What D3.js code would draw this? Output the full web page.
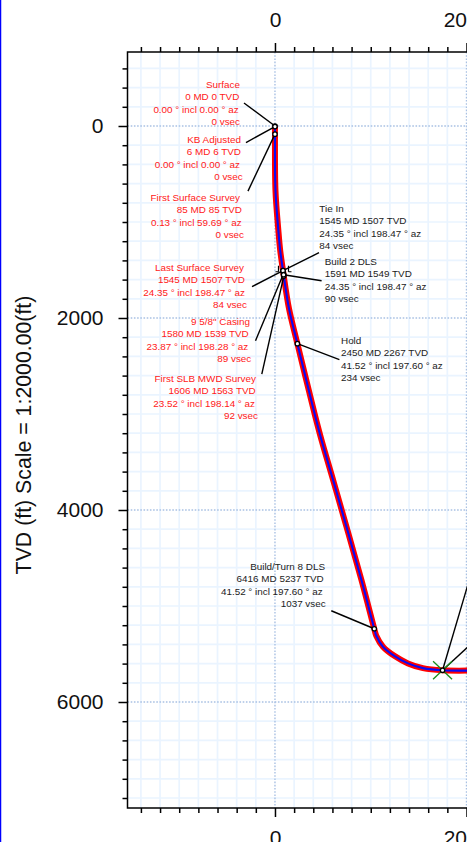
<!DOCTYPE html>
<html>
<head>
    <meta charset="utf-8">
    <title>Wellbore vertical section</title>
    <script src="https://d3js.org/d3.v7.min.js"></script>
    <style>
        html, body { margin: 0; padding: 0; background: #fff; }
        svg { display: block; font-family: "Liberation Sans", Arial, sans-serif; }
    </style>
</head>
<body>
<div id="container"></div>

<script type="text/javascript">
    // planned well path
    const pathVsec = [0, 0, 5, 35, 55, 84, 90, 146, 234, 417, 486, 616, 903, 1037, 1059, 1128, 1250, 1389, 1545, 1750, 2200];
    const pathTvd = [0, 85, 667, 1083, 1300, 1507, 1549, 1900, 2267, 3010, 3271, 3719, 4729, 5237, 5313, 5424, 5522, 5598, 5647, 5670, 5670];

    // survey stations
    const stationNames = ["Surface", "KB Adjusted", "First Surface Survey", "Last Surface Survey", "9 5/8\" Casing", "First SLB MWD Survey", "Tie In", "Build 2 DLS", "Hold", "Build/Turn 8 DLS"];
    const stationMd = [0, 6, 85, 1545, 1580, 1606, 1545, 1591, 2450, 6416];
    const stationTvd = [0, 6, 85, 1507, 1539, 1563, 1507, 1549, 2267, 5237];
    const stationIncl = ["0.00", "0.00", "0.13", "24.35", "23.87", "23.52", "24.35", "24.35", "41.52", "41.52"];
    const stationAz = ["0.00", "0.00", "59.69", "198.47", "198.28", "198.14", "198.47", "198.47", "197.60", "197.60"];
    const stationVsec = [0, 0, 0, 84, 89, 92, 84, 90, 234, 1037];

    // last point of the path, its labels are off the page
    const targetVsec = 1750;
    const targetTvd = 5670;

    // axis ticks
    const xMajor = [0, 2000];
    const yMajor = [0, 2000, 4000, 6000];
    const xMinor = [-1400, -1200, -1000, -800, -600, -400, -200, 200, 400, 600, 800, 1000, 1200, 1400, 1600, 1800];
    const yMinor = [-600, -400, -200, 200, 400, 600, 800, 1000, 1200, 1400, 1600, 1800, 2200, 2400, 2600, 2800, 3000, 3200, 3400, 3600, 3800, 4200, 4400, 4600, 4800, 5000, 5200, 5400, 5600, 5800, 6200, 6400, 6600, 6800, 7000];

    // label placement: text x per line, first baseline, leader end relative to the station
    const labelX = [
        [240, 239.3, 238.7, 240], [241, 241, 240, 242.7], [240, 242, 241.7, 244],
        [244, 245, 245, 247], [250, 248.7, 248.3, 251.3], [256, 255.7, 255, 258],
        [319.3, 319.3, 319.3, 319.3], [324.7, 324.7, 324.7, 324.7], [341, 341, 341, 341], [325, 323.7, 322.7, 325.7]
    ];
    const labelY = [88, 143, 201, 271, 325, 382, 212, 265, 344, 570];
    const labelAnchor = ["end", "end", "end", "end", "end", "end", "start", "start", "start", "end"];
    const labelColor = ["#ff2020", "#ff2020", "#ff2020", "#ff2020", "#ff2020", "#ff2020", "#222", "#222", "#222", "#222"];
    const leaderDx = [-31, -29, -27, -31, -28, -22, 36, 38, 42, -43];
    const leaderDy = [-23, 16, 57, 16, 67, 98, -18, 6, 16, -18];

    const width = 467, height = 842;

    const x = d3.scaleLinear().domain([-1540, 2000]).range([127.5, 466.5]);
    const y = d3.scaleLinear().domain([0, 6000]).range([126, 702]);
    const frameTop = 52, frameBottom = 808, frameLeft = x(-1540);

    const svg = d3.select("#container")
        .append("svg")
        .attr("width", width)
        .attr("height", height);

    // blue edge on the left of the page
    svg.append("line")
        .attr("x1", 0.5).attr("x2", 0.5)
        .attr("y1", 0).attr("y2", height)
        .style("stroke", "#0000ff")
        .style("stroke-width", 1.5);

    // grid
    svg.append("g").selectAll("line")
        .data(xMinor)
        .join("line")
        .attr("x1", d => x(d)).attr("x2", d => x(d))
        .attr("y1", frameTop).attr("y2", frameBottom)
        .style("stroke", "#eaf4ff").style("stroke-width", 1.7);
    svg.append("g").selectAll("line")
        .data(yMinor)
        .join("line")
        .attr("x1", frameLeft).attr("x2", width)
        .attr("y1", d => y(d)).attr("y2", d => y(d))
        .style("stroke", "#eaf4ff").style("stroke-width", 1.7);
    svg.append("g").selectAll("line")
        .data(xMajor)
        .join("line")
        .attr("x1", d => x(d)).attr("x2", d => x(d))
        .attr("y1", frameTop).attr("y2", frameBottom)
        .style("stroke", "#a9c1e3").style("stroke-width", 1.4)
        .style("stroke-dasharray", "1.6 1.6");
    svg.append("g").selectAll("line")
        .data(yMajor)
        .join("line")
        .attr("x1", frameLeft).attr("x2", width)
        .attr("y1", d => y(d)).attr("y2", d => y(d))
        .style("stroke", "#a9c1e3").style("stroke-width", 1.4)
        .style("stroke-dasharray", "1.6 1.6");

    // axes, minor and major ticks on their own
    function addAxis(axis, offset, ticks, size, padding) {
        const g = svg.append("g")
            .attr("transform", offset)
            .call(axis.tickValues(ticks).tickSize(size).tickPadding(padding)
                .tickFormat(size > 6 ? d3.format("d") : ""));
        g.select(".domain").remove();
        g.selectAll("line").style("stroke", "#000").style("stroke-width", 1.5);
        g.selectAll("text").style("font-size", "21px").style("font-family", "Liberation Sans").style("fill", "#111");
    }
    addAxis(d3.axisLeft(y), `translate(${frameLeft},0)`, yMinor, 5, 3);
    addAxis(d3.axisLeft(y), `translate(${frameLeft},0)`, yMajor, 9, 15);
    addAxis(d3.axisTop(x), `translate(0,${frameTop})`, xMinor, 5, 3);
    addAxis(d3.axisTop(x), `translate(0,${frameTop})`, xMajor, 9, 16);
    addAxis(d3.axisBottom(x), `translate(0,${frameBottom})`, xMinor, 5, 3);
    addAxis(d3.axisBottom(x), `translate(0,${frameBottom})`, xMajor, 9, 13);

    // frame, right side runs off the page
    svg.append("path")
        .attr("d", `M${width + 5},${frameTop}H${frameLeft}V${frameBottom}H${width + 5}`)
        .style("fill", "none")
        .style("stroke", "#000")
        .style("stroke-width", 1.5);

    svg.append("text")
        .attr("transform", "translate(31,435) rotate(-90)")
        .attr("text-anchor", "middle")
        .style("font-size", "21.3px")
        .style("fill", "#111")
        .text("TVD (ft) Scale = 1:2000.00(ft)");

    // well path
    const pathPoints = pathVsec.map((v, i) => [v, pathTvd[i]]);
    const line = d3.line()
        .x(d => x(d[0]))
        .y(d => y(d[1]))
        .curve(d3.curveCatmullRom.alpha(0.5));
    svg.append("path")
        .attr("d", line(pathPoints))
        .style("fill", "none").style("stroke", "#ff0000").style("stroke-width", 6);
    svg.append("path")
        .attr("d", line(pathPoints))
        .style("fill", "none").style("stroke", "#0a0af5").style("stroke-width", 2.1);

    // leaders
    svg.append("g").selectAll("line")
        .data(stationNames.map((n, i) => i))
        .join("line")
        .attr("x1", i => x(stationVsec[i])).attr("y1", i => y(stationTvd[i]))
        .attr("x2", i => x(stationVsec[i]) + leaderDx[i]).attr("y2", i => y(stationTvd[i]) + leaderDy[i])
        .style("stroke", "#000").style("stroke-width", 1.4);

    // target leaders going off the page
    svg.append("g").selectAll("line")
        .data([[26, -88], [26, -24]])
        .join("line")
        .attr("x1", x(targetVsec)).attr("y1", y(targetTvd))
        .attr("x2", d => x(targetVsec) + d[0]).attr("y2", d => y(targetTvd) + d[1])
        .style("stroke", "#000").style("stroke-width", 1.4);

    // green cross on the target
    svg.append("g").selectAll("line")
        .data([[-9.5, -9], [9.5, -9]])
        .join("line")
        .attr("x1", d => x(targetVsec) + d[0]).attr("y1", d => y(targetTvd) + d[1])
        .attr("x2", d => x(targetVsec) - d[0]).attr("y2", d => y(targetTvd) - d[1])
        .style("stroke", "#1a8a1a").style("stroke-width", 1.3);

    // casing shoe marks either side of the hole
    const casing = 4;
    svg.append("g").selectAll("path")
        .data([-1, 1])
        .join("path")
        .attr("d", s => {
            const cx = x(stationVsec[casing]) + s * 5, cy = y(stationTvd[casing]);
            return `M${cx},${cy - 2}V${cy - 8}M${cx},${cy - 2}H${cx + s * 3}`;
        })
        .style("fill", "none").style("stroke", "#000").style("stroke-width", 1.2);

    // station markers
    svg.append("g").selectAll("circle")
        .data(stationNames.map((n, i) => [stationVsec[i], stationTvd[i]]).concat([[targetVsec, targetTvd]]))
        .join("circle")
        .attr("cx", d => x(d[0]))
        .attr("cy", d => y(d[1]))
        .attr("r", 2.2)
        .style("fill", "#fff").style("stroke", "#000").style("stroke-width", 1.3);

    // station labels
    stationNames.forEach(function (name, i) {
        const rows = [
            name,
            `${stationMd[i]} MD ${stationTvd[i]} TVD`,
            `${stationIncl[i]} ° incl ${stationAz[i]} ° az`,
            `${stationVsec[i]} vsec`
        ];
        svg.append("g").selectAll("text")
            .data(rows)
            .join("text")
            .attr("x", (d, k) => labelX[i][k])
            .attr("y", (d, k) => labelY[i] + k * 12.4)
            .attr("text-anchor", labelAnchor[i])
            .style("font-size", "9.9px")
            .style("fill", labelColor[i])
            .text(d => d);
    });
</script>
</body>
</html>
